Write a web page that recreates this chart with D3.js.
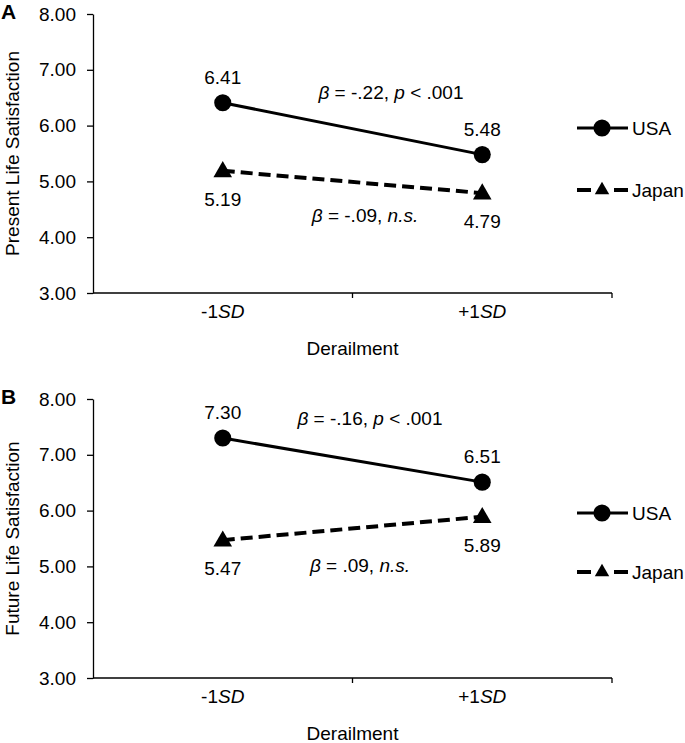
<!DOCTYPE html>
<html>
<head>
<meta charset="utf-8">
<script src="https://cdn.jsdelivr.net/npm/d3@7"></script>
<style>
  body { margin: 0; background: #fff; }
  text { font-family: Arial, "Liberation Sans", sans-serif; fill: #000; }
</style>
</head>
<body>
<script>
const WIDTH = 685;
const HEIGHT = 743;
const AXIS_LEFT = 93;
const AXIS_RIGHT = 612;
const PANEL_H = 279;
const FONT = 19;

const categories = ["-1", "+1"];
const yTicks = [3, 4, 5, 6, 7, 8];
const seriesNames = ["USA", "Japan"];

const usaPresent = [6.41, 5.48];
const japanPresent = [5.19, 4.79];
const usaFuture = [7.30, 6.51];
const japanFuture = [5.47, 5.89];

const panels = [
  {
    letter: "A", top: 14, title: "Present Life Satisfaction",
    usa: usaPresent, japan: japanPresent,
    usaNote: { beta: "-.22", p: "< .001", x: 391, y: 92 },
    japanNote: { beta: "-.09", x: 365, y: 215 },
    legendY: [128, 190]
  },
  {
    letter: "B", top: 399, title: "Future Life Satisfaction",
    usa: usaFuture, japan: japanFuture,
    usaNote: { beta: "-.16", p: "< .001", x: 370, y: 418 },
    japanNote: { beta: ".09", x: 360, y: 565 },
    legendY: [513, 572]
  }
];

const svg = d3.select("body").append("svg")
  .attr("width", WIDTH)
  .attr("height", HEIGHT)
  .style("font-size", FONT + "px");

const x = d3.scaleBand().domain(categories).range([AXIS_LEFT, AXIS_RIGHT]);
const cx = d => x(d) + x.bandwidth() / 2;

const circleSym = d3.symbol().type(d3.symbolCircle).size(230);
const triSym = d3.symbol().type(d3.symbolTriangle).size(150);

panels.forEach(p => drawPanel(p));

function drawPanel(p) {
  const y = d3.scaleLinear().domain([3, 8]).range([p.top + PANEL_H, p.top]);
  const g = svg.append("g");
  const bottom = y(3);

  // y axis
  const yAxis = g.append("g")
    .attr("transform", "translate(" + AXIS_LEFT + ",0)")
    .call(d3.axisLeft(y).tickValues(yTicks).tickFormat(d3.format(".2f"))
      .tickSize(6).tickSizeOuter(0).tickPadding(11));
  yAxis.selectAll("path, line").attr("stroke", "#000").attr("stroke-width", 1.3);
  yAxis.selectAll("text").style("font-size", FONT + "px").attr("font-family", "Arial, 'Liberation Sans', sans-serif");

  // x axis line with ticks at category boundaries
  g.append("line")
    .attr("x1", AXIS_LEFT).attr("x2", AXIS_RIGHT)
    .attr("y1", bottom).attr("y2", bottom)
    .attr("stroke", "#000").attr("stroke-width", 1.3);
  const bounds = categories.map(c => x(c)).concat([x(categories[categories.length - 1]) + x.bandwidth()]);
  g.selectAll(".xtick").data(bounds.slice(1)).enter().append("line")
    .attr("x1", d => d).attr("x2", d => d)
    .attr("y1", bottom).attr("y2", bottom + 5)
    .attr("stroke", "#000").attr("stroke-width", 1.3);

  // x tick labels
  g.selectAll(".xlab").data(categories).enter().append("text")
    .attr("x", d => cx(d))
    .attr("y", bottom + 25)
    .attr("text-anchor", "middle")
    .each(function (d) {
      const t = d3.select(this);
      t.append("tspan").text(d);
      t.append("tspan").attr("font-style", "italic").text("SD");
    });

  g.append("text")
    .attr("x", (AXIS_LEFT + AXIS_RIGHT) / 2)
    .attr("y", bottom + 62)
    .attr("text-anchor", "middle")
    .text("Derailment");

  // y title
  g.append("text")
    .attr("transform", "translate(19," + (p.top + PANEL_H / 2) + ") rotate(-90)")
    .attr("text-anchor", "middle")
    .text(p.title);

  // panel letter
  g.append("text")
    .attr("x", 1).attr("y", p.top + 5)
    .attr("font-weight", "bold")
    .style("font-size", "21px")
    .text(p.letter);

  const line = d3.line().x((d, i) => cx(categories[i])).y(d => y(d));

  // Japan dashed
  g.append("path").datum(p.japan)
    .attr("d", line)
    .attr("fill", "none").attr("stroke", "#000")
    .attr("stroke-width", 4).attr("stroke-dasharray", "12,6");
  g.selectAll(".tri").data(p.japan).enter().append("path")
    .attr("d", triSym)
    .attr("transform", (d, i) => "translate(" + cx(categories[i]) + "," + (y(d) + 1) + ")");

  // USA solid
  g.append("path").datum(p.usa)
    .attr("d", line)
    .attr("fill", "none").attr("stroke", "#000").attr("stroke-width", 3);
  g.selectAll(".circ").data(p.usa).enter().append("path")
    .attr("d", circleSym)
    .attr("transform", (d, i) => "translate(" + cx(categories[i]) + "," + y(d) + ")");

  // value labels
  g.selectAll(".ulab").data(p.usa).enter().append("text")
    .attr("x", (d, i) => cx(categories[i]))
    .attr("y", d => y(d) - 19)
    .attr("text-anchor", "middle")
    .text(d => d.toFixed(2));
  g.selectAll(".jlab").data(p.japan).enter().append("text")
    .attr("x", (d, i) => cx(categories[i]))
    .attr("y", d => y(d) + 35)
    .attr("text-anchor", "middle")
    .text(d => d.toFixed(2));

  // beta notes
  const n1 = g.append("text")
    .attr("x", p.usaNote.x).attr("y", p.usaNote.y + 7)
    .attr("text-anchor", "middle");
  n1.append("tspan").attr("font-style", "italic").text("β");
  n1.append("tspan").text(" = " + p.usaNote.beta + ", ");
  n1.append("tspan").attr("font-style", "italic").text("p");
  n1.append("tspan").text(" " + p.usaNote.p);

  const n2 = g.append("text")
    .attr("x", p.japanNote.x).attr("y", p.japanNote.y + 7)
    .attr("text-anchor", "middle");
  n2.append("tspan").attr("font-style", "italic").text("β");
  n2.append("tspan").text(" = " + p.japanNote.beta + ", ");
  n2.append("tspan").attr("font-style", "italic").text("n.s.");

  // legend
  const lx0 = 577, lx1 = 628, lmid = 602;
  const ly0 = p.legendY[0], ly1 = p.legendY[1];
  g.append("line").attr("x1", lx0).attr("x2", lx1).attr("y1", ly0).attr("y2", ly0)
    .attr("stroke", "#000").attr("stroke-width", 3);
  g.append("path").attr("d", circleSym).attr("transform", "translate(" + lmid + "," + ly0 + ")");
  g.append("text").attr("x", 632).attr("y", ly0 + 7).text(seriesNames[0]);

  [[lx0, 591], [614, lx1]].forEach(seg => {
    g.append("line").attr("x1", seg[0]).attr("x2", seg[1]).attr("y1", ly1).attr("y2", ly1)
      .attr("stroke", "#000").attr("stroke-width", 4);
  });
  g.append("path").attr("d", d3.symbol().type(d3.symbolTriangle).size(90))
    .attr("transform", "translate(" + lmid + "," + ly1 + ")");
  g.append("text").attr("x", 632).attr("y", ly1 + 7).text(seriesNames[1]);
}
</script>
</body>
</html>
